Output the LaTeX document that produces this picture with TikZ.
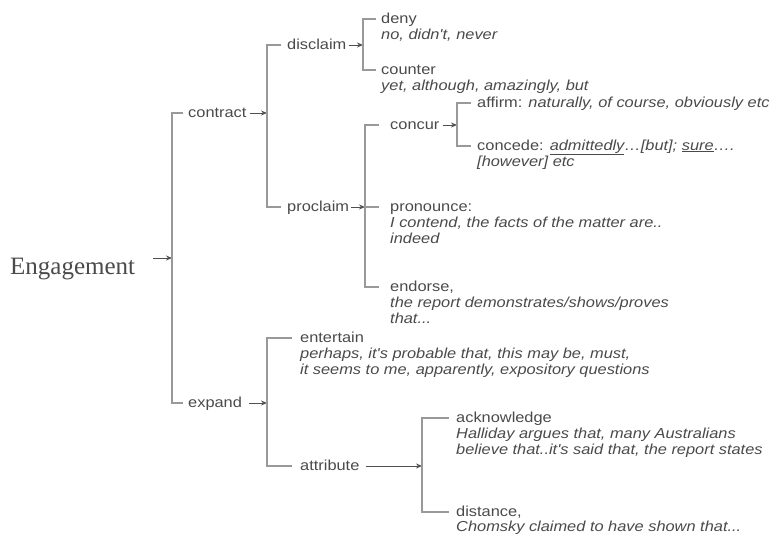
\documentclass[tikz,border=0pt]{standalone}
\usepackage{fontspec}
\setmainfont{Liberation Serif}
\newfontfamily\lab[FakeStretch=1.13]{Liberation Sans}
\usetikzlibrary{arrows.meta}
\definecolor{txt}{HTML}{4A4A4A}
\definecolor{ln}{HTML}{999999}
\definecolor{ar}{HTML}{505050}
\begin{document}
\begin{tikzpicture}[x=1pt,y=-1pt,
  lbl/.style={font=\lab\fontsize{14.5}{16}\selectfont, text=txt, inner sep=0pt,
              text height=11pt, text depth=3pt, anchor=west},
  ex/.style={lbl, font=\lab\fontsize{14.5}{16}\selectfont\itshape},
  br/.style={draw=ln, line width=1.4pt},
  arr/.style={draw=ar, line width=1pt, -{Stealth[length=6pt,width=5pt]}}]
\useasboundingbox (0,0) rectangle (779,536);

% root
\node[font=\fontsize{25}{28}\selectfont, text=txt, inner sep=0pt, anchor=base west] (eng) at (10,274) {Engagement};
\coordinate (spine) at (172,258);
\draw[arr] ([xshift=18pt]eng.east |- spine) -- (spine);

% level 1
\node[lbl] (contract) at (188,113) {contract};
\node[lbl] (expand) at (188,403) {expand};
\draw[br] ([xshift=-5pt]contract.west) -- ++(-11,0) |- ([xshift=-5pt]expand.west);

% contract
\coordinate (cspine) at (267,113);
\draw[arr] ([xshift=3pt]contract.east) -- (cspine);
\node[lbl] (disclaim) at (287,45) {disclaim};
\node[lbl] (proclaim) at (287,207) {proclaim};
\draw[br] ([xshift=-6pt]disclaim.west) -- ++(-14,0) |- ([xshift=-6pt]proclaim.west);

% disclaim
\coordinate (dspine) at (363,45);
\draw[arr] ([xshift=2pt]disclaim.east) -- (dspine);
\node[lbl] (deny) at (381,19) {deny};
\node[ex] (denyex) at (381,35) {no, didn't, never};
\node[lbl] (counter) at (381,70) {counter};
\node[ex] (counterex) at (381,86) {yet, although, amazingly, but};
\draw[br] ([xshift=-5pt]deny.west) -- ++(-13,0) |- ([xshift=-5pt]counter.west);

% proclaim
\coordinate (pspine) at (365,207);
\draw[arr] ([xshift=2pt]proclaim.east) -- (pspine);
\node[lbl] (concur) at (390,125) {concur};
\node[lbl] (pronounce) at (390,207) {pronounce:};
\node[ex] (pronex1) at (390,223) {I contend, the facts of the matter are..};
\node[ex] (pronex2) at (390,239) {indeed};
\node[lbl] (endorse) at (390,287) {endorse,};
\node[ex] (endex1) at (390,303) {the report demonstrates/shows/proves};
\node[ex] (endex2) at (390,319) {that...};
\draw[br] ([xshift=-11pt]concur.west) -- ++(-14,0) |- ([xshift=-11pt]endorse.west);
\draw[br] ([xshift=-11pt]pronounce.west) -- (pspine);

% concur
\coordinate (qspine) at (457,125);
\draw[arr] ([xshift=3pt]concur.east) -- (qspine);
\node[lbl] (affirm) at (477,103) {affirm: \textit{naturally, of course, obviously etc}};
\node[lbl] (concede) at (477,146) {concede: \textit{\underline{admittedly}…[but]; \underline{sure}….}};
\node[ex] (concex) at (477,162) {[however] etc};
\draw[br] ([xshift=-6pt]affirm.west) -- ++(-14,0) |- ([xshift=-6pt]concede.west);

% expand
\coordinate (espine) at (267,403);
\draw[arr] ([xshift=7pt]expand.east) -- (espine);
\node[lbl] (entertain) at (300,338) {entertain};
\node[ex] (entex1) at (300,354) {perhaps, it's probable that, this may be, must,};
\node[ex] (entex2) at (300,370) {it seems to me, apparently, expository questions};
\node[lbl] (attribute) at (300,466) {attribute};
\draw[br] ([xshift=-8pt]entertain.west) -- ++(-25,0) |- ([xshift=-8pt]attribute.west);

% attribute
\coordinate (aspine) at (422,466);
\draw[arr] ([xshift=6pt]attribute.east) -- (aspine);
\node[lbl] (acknowledge) at (456,418) {acknowledge};
\node[ex] (ackex1) at (456,434) {Halliday argues that, many Australians};
\node[ex] (ackex2) at (456,450) {believe that..it's said that, the report states};
\node[lbl] (distance) at (456,512) {distance,};
\node[ex] (distex) at (456,527) {Chomsky claimed to have shown that...};
\draw[br] ([xshift=-7pt]acknowledge.west) -- ++(-27,0) |- ([xshift=-7pt]distance.west);
\end{tikzpicture}
\end{document}
